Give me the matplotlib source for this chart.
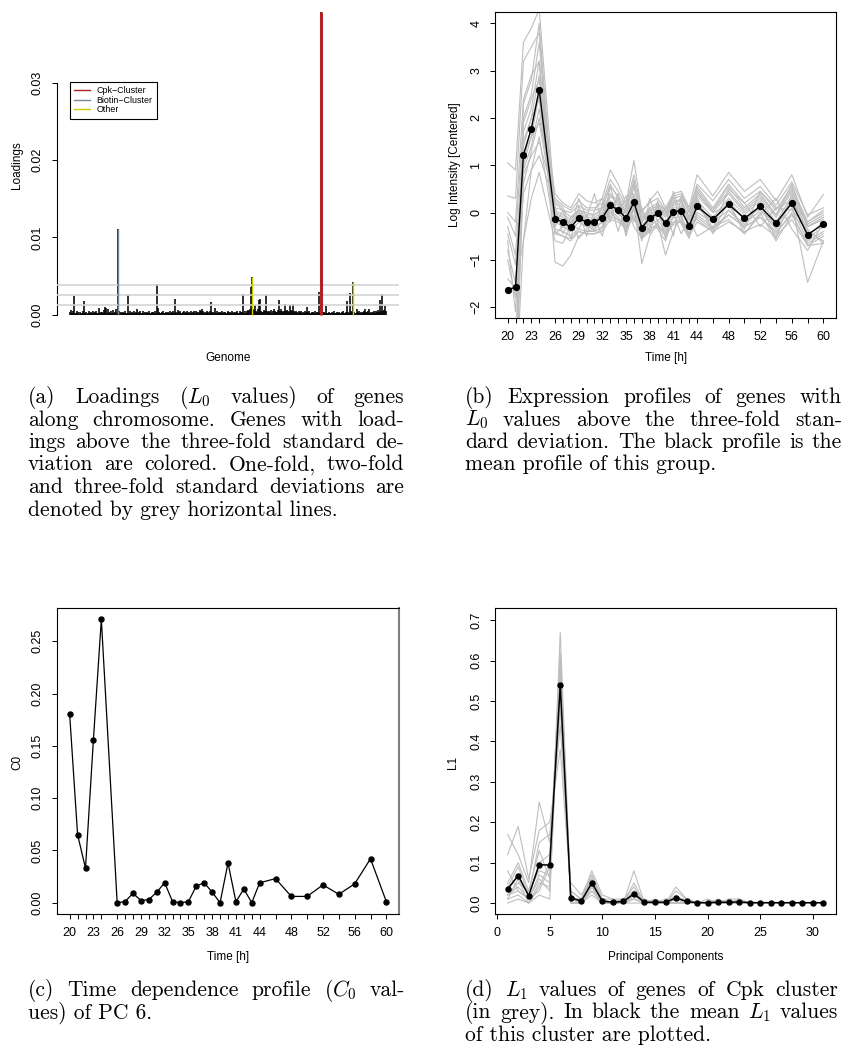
import matplotlib
matplotlib.use("Agg")
import matplotlib.pyplot as plt
from matplotlib.lines import Line2D
from matplotlib.ticker import FormatStrFormatter

# ---------------------------------------------------------------
# data
# ---------------------------------------------------------------

# (a) loadings along the genome, units of 1e-5
loadings_e5 = [
    40, 60, 25, 55, 250, 30, 20, 45, 35, 15, 40, 25, 30, 50, 180, 20, 35, 10, 30, 45,
    25, 40, 15, 30, 55, 20, 35, 45, 25, 30, 90, 20, 40, 35, 25, 60, 100, 95, 30, 80,
    35, 20, 45, 30, 60, 25, 40, 70, 30, 1110, 50, 25, 40, 20, 35, 30, 45, 25, 30, 260,
    30, 45, 20, 35, 25, 50, 30, 40, 75, 25, 35, 45, 20, 30, 55, 25, 40, 30, 35, 20,
    45, 30, 25, 40, 35, 20, 50, 30, 396, 90, 40, 30, 25, 35, 45, 20, 30, 40, 25, 35,
    30, 45, 25, 35, 50, 30, 210, 40, 25, 60, 35, 45, 30, 20, 40, 55, 30, 35, 45, 25,
    40, 30, 55, 25, 35, 45, 30, 50, 40, 25, 35, 60, 45, 70, 55, 30, 40, 25, 45, 35,
    30, 50, 160, 40, 25, 35, 90, 30, 45, 25, 40, 35, 30, 45, 20, 35, 40, 30, 25, 45,
    35, 30, 40, 25, 45, 30, 35, 20, 40, 45, 30, 25, 50, 35, 40, 270, 30, 45, 25, 55,
    60, 45, 70, 360, 495, 80, 60, 130, 50, 40, 70, 190, 200, 55, 40, 35, 60, 45, 260, 50,
    40, 55, 35, 60, 30, 45, 80, 50, 40, 35, 60, 190, 45, 70, 50, 40, 55, 140, 45, 60,
    50, 40, 130, 60, 45, 140, 55, 35, 50, 40, 30, 45, 35, 50, 25, 40, 30, 45, 35, 100,
    35, 45, 30, 25, 40, 35, 30, 45, 25, 35, 40, 290, 30, 3910, 20, 35, 40, 25, 120, 30,
    25, 40, 30, 20, 35, 25, 45, 30, 20, 35, 25, 40, 30, 25, 35, 50, 30, 25, 40, 180,
    40, 30, 280, 45, 35, 426, 40, 30, 25, 80, 35, 45, 30, 40, 25, 35, 45, 30, 80, 40,
    35, 45, 80, 30, 40, 25, 35, 50, 30, 45, 40, 60, 35, 190, 50, 270, 45, 60, 120, 55,
]
cpk_genes = [253]
biotin_genes = [49]
other_genes = [184, 285]
sd_levels = [0.00129, 0.00258, 0.00387]
legend_labels = ["Cpk\u2212Cluster", "Biotin\u2212Cluster", "Other"]

# (b) expression profiles, time points in hours
times = [20, 21, 22, 23, 24, 26, 27, 28, 29, 30, 31, 32, 33, 34, 35, 36,
         37, 38, 39, 40, 41, 42, 43, 44, 46, 48, 50, 52, 54, 56, 58, 60]
time_labels = [20, 23, 26, 29, 32, 35, 38, 41, 44, 48, 52, 56, 60]

profiles = [
    [1.05, 0.90, 3.60, 3.90, 4.30, 0.10, 0.05, -0.10, 0.05, 0.00, -0.05, 0.10, 0.55, 0.35, 0.10, 0.65, -0.10, 0.10, 0.20, 0.00, 0.30, 0.35, 0.00, 0.55, 0.10, 0.60, 0.20, 0.45, 0.05, 0.55, -0.20, 0.00],
    [0.35, 0.30, 3.20, 3.50, 3.80, -0.40, -0.50, -0.60, -0.40, -0.45, -0.45, -0.35, 0.05, -0.10, -0.30, 0.10, -0.55, -0.35, -0.25, -0.45, -0.20, -0.15, -0.50, -0.05, -0.30, -0.05, -0.30, -0.10, -0.45, 0.00, -0.70, -0.50],
    [0.00, -0.20, 2.40, 2.90, 3.20, -1.05, -1.13, -0.90, -0.50, -0.40, -0.35, -0.20, 0.00, -0.15, -0.30, 0.05, -0.50, -0.30, -0.15, -0.40, -0.10, -0.10, -0.45, 0.00, -0.20, 0.05, -0.25, 0.05, -0.35, 0.10, -0.60, -0.40],
    [-0.10, -0.50, 1.90, 2.40, 2.80, 0.40, 0.20, 0.10, 0.40, 0.25, 0.20, 0.30, 0.90, 0.60, 0.20, 1.10, 0.00, 0.25, 0.45, 0.10, 0.40, 0.45, 0.10, 0.80, 0.35, 0.85, 0.45, 0.70, 0.25, 0.80, -0.10, 0.38],
    [-0.30, -0.90, 1.50, 2.00, 2.40, -0.20, -0.30, -0.40, -0.20, -0.30, -0.30, -0.20, 0.10, 0.00, -0.20, 0.20, -1.08, -0.50, -0.20, -0.90, -0.40, -0.05, -0.50, 0.10, -0.20, 0.20, -0.15, 0.15, -0.30, 0.20, -1.48, -0.60],
    [-0.45, -1.10, 1.20, 1.60, 1.90, 0.00, -0.10, -0.20, 0.00, -0.10, -0.10, 0.00, 0.35, 0.20, 0.00, 0.40, -0.20, 0.00, 0.10, -0.10, 0.15, 0.20, -0.15, 0.35, 0.00, 0.40, 0.00, 0.30, -0.10, 0.45, -0.30, -0.10],
    [-0.80, -1.50, 0.80, 1.20, 1.50, 0.25, 0.10, -0.35, 0.30, -0.10, 0.40, -0.25, 0.55, -0.05, 0.35, -0.20, 0.10, -0.45, 0.25, -0.30, 0.45, -0.10, 0.05, 0.30, -0.35, 0.50, 0.20, -0.30, 0.10, 0.25, -0.20, 0.05],
    [-1.00, -1.80, 0.40, 0.90, 1.20, 0.20, 0.05, 0.00, 0.15, 0.05, 0.05, 0.10, 0.60, 0.30, 0.00, 0.70, -0.20, 0.05, 0.15, -0.05, 0.20, 0.25, -0.10, 0.50, 0.05, 0.55, 0.10, 0.40, -0.05, 0.60, -0.30, -0.15],
    [-1.40, -1.60, -0.60, 0.30, 0.85, -0.60, -0.65, -0.25, -0.35, -0.05, -0.40, -0.30, 0.35, 0.20, -0.50, 0.10, -0.20, -0.40, 0.15, -0.55, 0.20, 0.30, -0.25, 0.30, -0.45, 0.05, -0.30, 0.20, -0.55, 0.40, -0.40, -0.60],
    [-2.60, -3.80, -0.60, 0.90, 1.60, -0.45, -0.30, -0.20, -0.55, -0.35, -0.10, -0.50, 0.20, -0.40, 0.15, -0.30, -0.55, 0.10, -0.35, -0.60, -0.05, -0.45, -0.10, -0.50, -0.30, -0.15, -0.45, 0.00, -0.60, -0.05, -0.35, -0.65],
    [-3.20, -3.40, 1.00, 1.60, 2.50, -0.10, -0.15, -0.25, -0.05, -0.15, -0.15, -0.05, 0.25, 0.15, -0.05, 0.35, -0.30, -0.05, 0.05, -0.20, 0.10, 0.10, -0.25, 0.25, -0.10, 0.30, -0.05, 0.25, -0.20, 0.35, -0.50, -0.20],
    [-3.50, -3.20, 1.40, 2.00, 2.90, 0.10, -0.45, -0.10, 0.05, -0.50, 0.05, 0.30, -0.20, 0.35, -0.45, 0.60, 0.00, -0.30, 0.20, 0.05, 0.35, -0.25, -0.55, 0.45, 0.00, 0.15, -0.35, 0.45, 0.10, 0.05, -0.30, -0.10],
    [-4.00, -3.60, 1.70, 2.20, 3.20, 0.05, -0.05, -0.15, 0.05, -0.05, -0.05, 0.05, 0.40, 0.25, 0.05, 0.55, -0.15, 0.05, 0.15, -0.05, 0.25, 0.25, -0.10, 0.40, 0.05, 0.45, 0.05, 0.35, -0.05, 0.50, -0.25, -0.05],
    [-4.20, -4.00, 2.00, 2.50, 3.60, -0.35, -0.40, -0.50, -0.35, -0.40, -0.40, -0.30, -0.10, -0.15, -0.35, -0.05, -0.50, -0.35, -0.25, -0.45, -0.20, -0.20, -0.45, -0.10, -0.35, -0.05, -0.30, -0.10, -0.40, -0.05, -0.65, -0.45],
    [-2.90, -3.00, 2.30, 2.80, 4.00, -0.30, 0.05, -0.55, 0.15, -0.25, -0.40, 0.20, -0.10, 0.40, -0.35, 0.15, -0.60, 0.30, -0.20, 0.10, -0.50, 0.35, 0.00, -0.15, -0.40, 0.25, -0.45, -0.05, 0.30, -0.35, -0.80, -0.20],
    [-3.80, -3.50, 0.60, 1.30, 2.00, 0.30, 0.15, 0.05, 0.25, 0.10, 0.10, 0.20, 0.70, 0.45, 0.15, 0.80, 0.05, 0.20, 0.30, 0.05, 0.35, 0.40, 0.05, 0.60, 0.25, 0.70, 0.30, 0.55, 0.15, 0.65, -0.05, 0.10],
    [-4.50, -4.20, 1.10, 1.80, 2.60, -0.45, -0.50, -0.55, -0.40, -0.45, -0.45, -0.40, -0.15, -0.20, -0.35, -0.10, -0.55, -0.40, -0.30, -0.50, -0.25, -0.20, -0.50, -0.20, -0.40, -0.20, -0.40, -0.25, -0.50, -0.15, -0.70, -0.65],
    [-0.60, -2.10, 0.90, 1.40, 2.20, -0.05, -0.15, -0.20, -0.10, -0.25, -0.20, -0.05, 0.20, 0.00, -0.25, 0.25, -0.45, -0.20, 0.00, -0.35, 0.00, 0.15, -0.35, 0.20, -0.20, 0.25, -0.15, 0.10, -0.30, 0.30, -0.55, -0.30],
]
mean_profile = [-1.63, -1.58, 1.22, 1.77, 2.60, -0.13, -0.20, -0.31, -0.12, -0.20, -0.20, -0.11,
                0.15, 0.06, -0.12, 0.22, -0.32, -0.12, -0.02, -0.23, 0.02, 0.04, -0.28, 0.13,
                -0.14, 0.17, -0.12, 0.13, -0.22, 0.20, -0.47, -0.24]

# (c) C0 values of PC 6
c0 = [0.180, 0.065, 0.033, 0.156, 0.271, 0.000, 0.001, 0.009, 0.002, 0.003, 0.010, 0.019,
      0.001, 0.000, 0.001, 0.016, 0.019, 0.010, 0.000, 0.038, 0.001, 0.013, 0.000, 0.019,
      0.023, 0.006, 0.006, 0.017, 0.008, 0.018, 0.042, 0.001]

# (d) L1 values of the Cpk genes
pcs = list(range(1, 32))
cpk_l1 = [
    [0.17, 0.12, 0.05, 0.25, 0.15, 0.48, 0.05, 0.02, 0.07, 0.01, 0.00, 0.01, 0.03, 0.00, 0.00, 0.00, 0.01, 0.00, 0.00, 0.00, 0.00, 0.00, 0.00, 0.00, 0.00, 0.00, 0.00, 0.00, 0.00, 0.00, 0.00],
    [0.12, 0.19, 0.06, 0.18, 0.20, 0.38, 0.03, 0.01, 0.08, 0.02, 0.01, 0.01, 0.04, 0.00, 0.01, 0.00, 0.04, 0.01, 0.00, 0.00, 0.00, 0.00, 0.00, 0.00, 0.00, 0.00, 0.00, 0.00, 0.00, 0.00, 0.00],
    [0.01, 0.02, 0.00, 0.05, 0.04, 0.67, 0.01, 0.00, 0.04, 0.00, 0.00, 0.00, 0.08, 0.00, 0.00, 0.00, 0.00, 0.00, 0.00, 0.01, 0.00, 0.01, 0.01, 0.00, 0.00, 0.00, 0.00, 0.00, 0.00, 0.00, 0.00],
    [0.02, 0.04, 0.01, 0.03, 0.09, 0.62, 0.00, 0.00, 0.03, 0.00, 0.00, 0.00, 0.01, 0.00, 0.00, 0.00, 0.02, 0.00, 0.00, 0.00, 0.01, 0.00, 0.00, 0.00, 0.00, 0.00, 0.00, 0.00, 0.00, 0.00, 0.00],
    [0.05, 0.10, 0.03, 0.13, 0.06, 0.55, 0.01, 0.01, 0.06, 0.01, 0.00, 0.01, 0.02, 0.00, 0.00, 0.00, 0.01, 0.00, 0.00, 0.00, 0.00, 0.00, 0.00, 0.00, 0.00, 0.00, 0.00, 0.00, 0.00, 0.00, 0.00],
    [0.00, 0.01, 0.00, 0.02, 0.01, 0.60, 0.00, 0.00, 0.02, 0.00, 0.00, 0.00, 0.00, 0.00, 0.00, 0.00, 0.00, 0.00, 0.00, 0.00, 0.00, 0.00, 0.00, 0.00, 0.00, 0.00, 0.00, 0.00, 0.00, 0.00, 0.00],
    [0.03, 0.07, 0.02, 0.10, 0.12, 0.52, 0.02, 0.00, 0.05, 0.01, 0.00, 0.00, 0.03, 0.00, 0.00, 0.01, 0.01, 0.01, 0.00, 0.00, 0.00, 0.00, 0.01, 0.00, 0.00, 0.00, 0.00, 0.00, 0.00, 0.00, 0.00],
    [0.08, 0.03, 0.01, 0.06, 0.03, 0.58, 0.01, 0.01, 0.04, 0.00, 0.00, 0.00, 0.01, 0.00, 0.00, 0.00, 0.00, 0.00, 0.00, 0.00, 0.00, 0.00, 0.00, 0.00, 0.00, 0.00, 0.00, 0.00, 0.00, 0.00, 0.00],
    [0.02, 0.05, 0.03, 0.08, 0.07, 0.57, 0.01, 0.00, 0.06, 0.00, 0.00, 0.00, 0.02, 0.01, 0.00, 0.00, 0.01, 0.00, 0.00, 0.00, 0.00, 0.00, 0.00, 0.00, 0.00, 0.00, 0.00, 0.00, 0.00, 0.00, 0.00],
    [0.01, 0.06, 0.00, 0.04, 0.10, 0.61, 0.00, 0.00, 0.03, 0.00, 0.00, 0.01, 0.01, 0.00, 0.00, 0.00, 0.00, 0.00, 0.00, 0.00, 0.00, 0.00, 0.00, 0.00, 0.00, 0.00, 0.00, 0.00, 0.00, 0.00, 0.00],
    [0.04, 0.09, 0.02, 0.15, 0.17, 0.44, 0.03, 0.01, 0.07, 0.01, 0.01, 0.00, 0.05, 0.00, 0.00, 0.00, 0.03, 0.01, 0.00, 0.00, 0.00, 0.00, 0.00, 0.00, 0.00, 0.00, 0.00, 0.00, 0.00, 0.00, 0.00],
    [0.02, 0.03, 0.01, 0.07, 0.05, 0.59, 0.01, 0.00, 0.04, 0.00, 0.00, 0.00, 0.02, 0.00, 0.00, 0.00, 0.01, 0.00, 0.00, 0.00, 0.00, 0.00, 0.00, 0.00, 0.00, 0.00, 0.00, 0.00, 0.00, 0.00, 0.00],
]
mean_l1 = [0.035, 0.068, 0.018, 0.095, 0.094, 0.540, 0.013, 0.005, 0.050, 0.005, 0.002, 0.004,
           0.023, 0.002, 0.002, 0.002, 0.013, 0.004, 0.001, 0.001, 0.002, 0.002, 0.003, 0.001,
           0.001, 0.001, 0.001, 0.001, 0.001, 0.001, 0.001]

captions = {
    "a": ["(a) Loadings ($L_0$ values) of genes",
          "along chromosome. Genes with load-",
          "ings above the three-fold standard de-",
          "viation are colored. One-fold, two-fold",
          "and three-fold standard deviations are",
          "denoted by grey horizontal lines."],
    "b": ["(b) Expression profiles of genes with",
          "$L_0$ values above the three-fold stan-",
          "dard deviation. The black profile is the",
          "mean profile of this group."],
    "c": ["(c) Time dependence profile ($C_0$ val-",
          "ues) of PC 6."],
    "d": ["(d) $L_1$ values of genes of Cpk cluster",
          "(in grey). In black the mean $L_1$ values",
          "of this cluster are plotted."],
}

# ---------------------------------------------------------------
# layout helpers (pixel coordinates, origin top left)
# ---------------------------------------------------------------
W, H = 843, 1053
GREY = "#BEBEBE"
TICK_FS = 9
LAB_FS = 8.5
CAP_FS = 15.5
CAP_STEP = 22.5

plt.rcParams["font.family"] = ["Liberation Sans Narrow", "Liberation Sans", "DejaVu Sans"]
plt.rcParams["mathtext.fontset"] = "cm"

fig = plt.figure(figsize=(W / 100, H / 100), dpi=100)


def box(x0, y0, x1, y1):
    return fig.add_axes([x0 / W, 1 - y1 / H, (x1 - x0) / W, (y1 - y0) / H])


def ftext(x, y, s, **kw):
    return fig.text(x / W, 1 - y / H, s, ha="center", va="center", **kw)


def style(ax, ypad=5.5):
    for s in ax.spines.values():
        s.set_linewidth(0.8)
    ax.tick_params(direction="out", length=3.6, width=0.7, labelsize=TICK_FS)
    ax.tick_params(axis="x", pad=5.5)
    ax.tick_params(axis="y", pad=ypad, labelrotation=90)
    plt.setp(ax.get_yticklabels(), va="center")


def caption(lines, x0, x1, y0):
    # LaTeX-like justified paragraph, last line flush left
    r = fig.canvas.get_renderer()
    for i, line in enumerate(lines):
        y = 1 - (y0 + i * CAP_STEP) / H
        if i == len(lines) - 1:
            fig.text(x0 / W, y, line, family="cmr10", fontsize=CAP_FS, va="baseline")
            continue
        words = line.split(" ")
        texts = [fig.text(0, y, w, family="cmr10", fontsize=CAP_FS, va="baseline") for w in words]
        widths = [t.get_window_extent(r).width for t in texts]
        gap = (x1 - x0 - sum(widths)) / (len(words) - 1)
        x = x0
        for t, w in zip(texts, widths):
            t.set_x(x / W)
            x += w + gap


# ---------------------------------------------------------------
# (a) loadings
# ---------------------------------------------------------------
ax = box(57, 0, 399, 327)
loads = [v * 1e-5 for v in loadings_e5]
idx = list(range(len(loads)))
n = len(loads) - 1
ax.vlines(idx, 0, loads, color="black", lw=1.15, zorder=2)
for lvl in sd_levels:
    ax.axhline(lvl, color="#D3D3D3", lw=1.2, zorder=3)
ax.vlines(cpk_genes, 0, [loads[i] for i in cpk_genes], color="#B22222", lw=2.2, zorder=4)
ax.vlines(biotin_genes, 0, [loads[i] for i in biotin_genes], color="#778899", lw=1.0, zorder=4)
ax.vlines(other_genes, 0, [loads[i] for i in other_genes], color="#CDCD00", lw=1.0, zorder=4)
top = max(loads)
ax.set_xlim(-0.04 * n, 1.04 * n)
ax.set_ylim(-0.04 * top, 1.04 * top)
for s in ["top", "right", "bottom"]:
    ax.spines[s].set_visible(False)
ax.spines["left"].set_bounds(0, 0.03)
ax.set_xticks([])
ax.set_yticks([0, 0.01, 0.02, 0.03])
ax.yaxis.set_major_formatter(FormatStrFormatter("%.2f"))
style(ax, ypad=6)
handles = [Line2D([], [], color=c, lw=1.0) for c in ["#B22222", "#778899", "#CDCD00"]]
leg = ax.legend(handles, legend_labels, loc="upper left",
                bbox_to_anchor=(70 / W, 1 - 82 / H), bbox_transform=fig.transFigure,
                borderaxespad=0, fontsize=6.4, frameon=True, fancybox=False,
                edgecolor="black", framealpha=1, labelspacing=0.05, borderpad=0.5,
                handlelength=1.8, handletextpad=0.7)
leg.get_frame().set_linewidth(0.8)
ftext(17, 165, "Loadings", rotation=90, fontsize=LAB_FS)
ftext(228, 358, "Genome", fontsize=LAB_FS)

# ---------------------------------------------------------------
# (b) expression profiles
# ---------------------------------------------------------------
ax = box(495, 12, 836, 318)
for p in profiles:
    ax.plot(times, p, color=GREY, lw=0.8)
ax.plot(times, mean_profile, color="black", lw=1.0, marker="o", ms=4.2)
ax.set_xlim(18.4, 61.6)
ax.set_ylim(-2.23, 4.24)
ax.set_xticks(times)
ax.set_xticklabels([str(t) if t in time_labels else "" for t in times])
ax.set_yticks(range(-2, 5))
style(ax)
ftext(455, 165, "Log Intensity [Centered]", rotation=90, fontsize=LAB_FS)
ftext(666, 358, "Time [h]", fontsize=LAB_FS)

# ---------------------------------------------------------------
# (c) C0 of PC 6
# ---------------------------------------------------------------
ax = box(57, 608, 399, 914)
ax.plot(times, c0, color="black", lw=0.9, marker="o", ms=3.6)
ax.set_xlim(18.4, 61.6)
ax.set_ylim(-0.04 * max(c0), 1.04 * max(c0))
ax.set_xticks(times)
ax.set_xticklabels([str(t) if t in time_labels else "" for t in times])
ax.set_yticks([0, 0.05, 0.10, 0.15, 0.20, 0.25])
ax.yaxis.set_major_formatter(FormatStrFormatter("%.2f"))
style(ax, ypad=6)
ax.spines["right"].set_color("#808080")
ax.spines["right"].set_linewidth(1.5)
ftext(17, 762, "C0", rotation=90, fontsize=LAB_FS)
ftext(228, 957, "Time [h]", fontsize=LAB_FS)

# ---------------------------------------------------------------
# (d) L1 of Cpk genes
# ---------------------------------------------------------------
ax = box(495, 608, 836, 914)
for g in cpk_l1:
    ax.plot(pcs, g, color=GREY, lw=0.8)
ax.plot(pcs, mean_l1, color="black", lw=1.1, marker="o", ms=3.6)
ax.set_xlim(-0.2, 32.2)
ax.set_ylim(-0.027, 0.730)
ax.set_xticks(range(0, 31, 5))
ax.set_yticks([0, 0.1, 0.2, 0.3, 0.4, 0.5, 0.6, 0.7])
ax.yaxis.set_major_formatter(FormatStrFormatter("%.1f"))
style(ax)
ftext(453, 762, "L1", rotation=90, fontsize=LAB_FS)
ftext(666, 957, "Principal Components", fontsize=LAB_FS)

# ---------------------------------------------------------------
# captions
# ---------------------------------------------------------------
caption(captions["a"], 28, 404, 403)
caption(captions["b"], 465, 842, 403)
caption(captions["c"], 28, 405, 996)
caption(captions["d"], 465, 838, 996)

fig.savefig("out.png", dpi=100)
